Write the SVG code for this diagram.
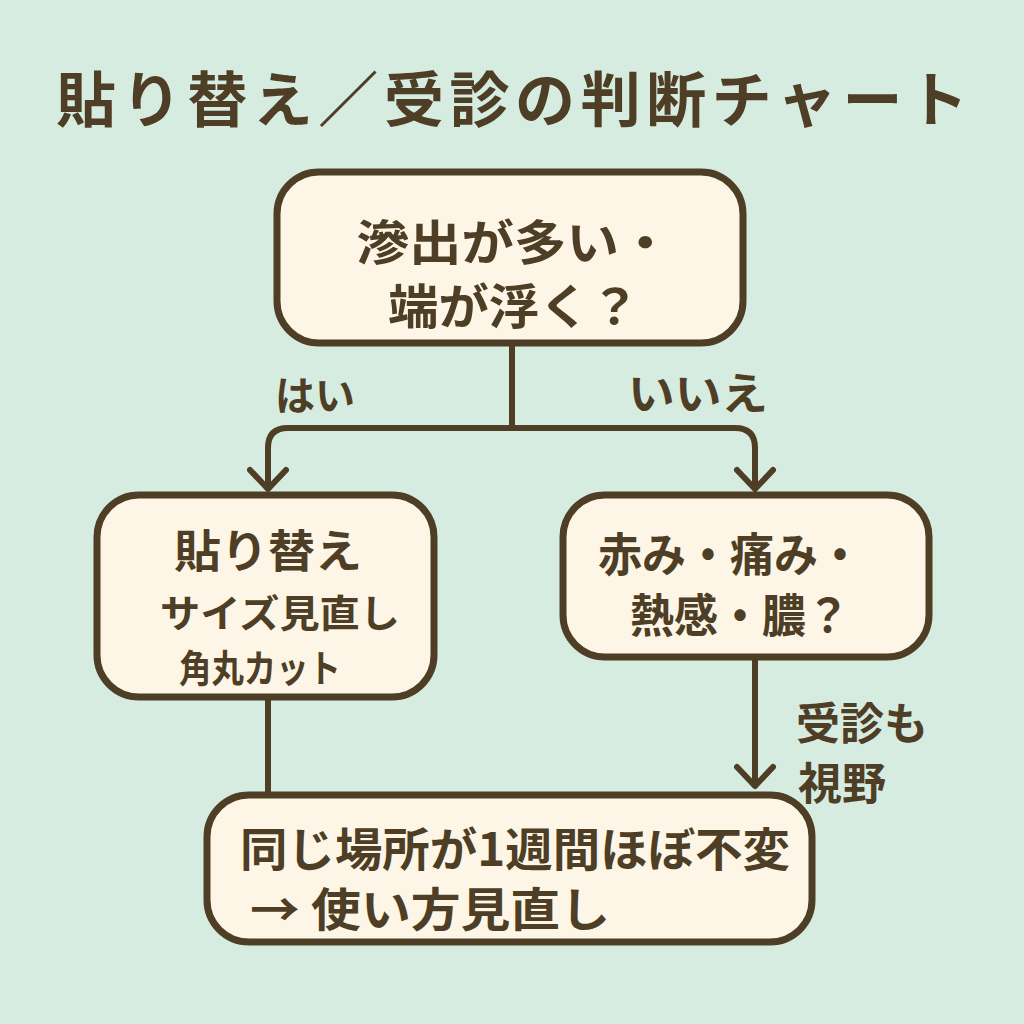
<svg xmlns="http://www.w3.org/2000/svg" width="1024" height="1024" viewBox="0 0 1024 1024">
<defs>
<style>
.bg{fill:#d7ece1}
.box{fill:#fdf6e6;stroke:#4d3e25;stroke-width:7}
.ln{fill:none;stroke:#4d3e25;stroke-width:6;stroke-linecap:round;stroke-linejoin:round}
.t{font-family:"Noto Sans CJK JP","Noto Sans CJK SC",sans-serif;font-weight:700;fill:#4d3e25;text-anchor:middle}
</style>
</defs>
<rect class="bg" x="0" y="0" width="1024" height="1024"/>
<text class="t" x="512" y="122" font-size="60" textLength="912" lengthAdjust="spacing">貼り替え／受診の判断チャート</text>
<g id="connectors">
<path class="ln" d="M512,343 V428"/>
<path class="ln" d="M268,488 V448 Q268,428 288,428 H735 Q755,428 755,448 V488"/>
<path class="ln" d="M250,470 L268,489 L286,470"/>
<path class="ln" d="M737,470 L755,489 L773,470"/>
<path class="ln" d="M755,657 V785"/>
<path class="ln" d="M737,767 L755,786 L773,767"/>
<path class="ln" d="M268,697 V797"/>
<text class="t" x="315" y="410" font-size="40">はい</text>
<text class="t" x="698" y="410" font-size="44" textLength="140" lengthAdjust="spacingAndGlyphs">いいえ</text>
<text class="t" x="862" y="740" font-size="44">受診も</text>
<text class="t" x="842" y="800" font-size="44">視野</text>
</g>
<g id="q1">
<rect class="box" x="277" y="172" width="466" height="171" rx="42"/>
<text class="t" x="514" y="260" font-size="48" textLength="315" lengthAdjust="spacingAndGlyphs">滲出が多い・</text>
<text class="t" x="514" y="324" font-size="48" textLength="252" lengthAdjust="spacingAndGlyphs">端が浮く？</text>
</g>
<g id="replace">
<rect class="box" x="97" y="495" width="337" height="202" rx="42"/>
<text class="t" x="268" y="568" font-size="45" textLength="188" lengthAdjust="spacingAndGlyphs">貼り替え</text>
<text class="t" x="280" y="627" font-size="38" textLength="240" lengthAdjust="spacingAndGlyphs">サイズ見直し</text>
<text class="t" x="260" y="682" font-size="38" textLength="162" lengthAdjust="spacingAndGlyphs">角丸カット</text>
</g>
<g id="q2">
<rect class="box" x="563" y="495" width="366" height="162" rx="42"/>
<text class="t" x="730" y="571" font-size="46" textLength="264" lengthAdjust="spacingAndGlyphs">赤み・痛み・</text>
<text class="t" x="740" y="632" font-size="46" textLength="220" lengthAdjust="spacingAndGlyphs">熱感・膿？</text>
</g>
<g id="review">
<rect class="box" x="207" y="795" width="605" height="147" rx="42"/>
<text class="t" x="515" y="866" font-size="46" textLength="550" lengthAdjust="spacingAndGlyphs">同じ場所が1週間ほぼ不変</text>
<text class="t" x="430" y="926" font-size="46" textLength="360" lengthAdjust="spacingAndGlyphs">→ 使い方見直し</text>
</g>
</svg>
